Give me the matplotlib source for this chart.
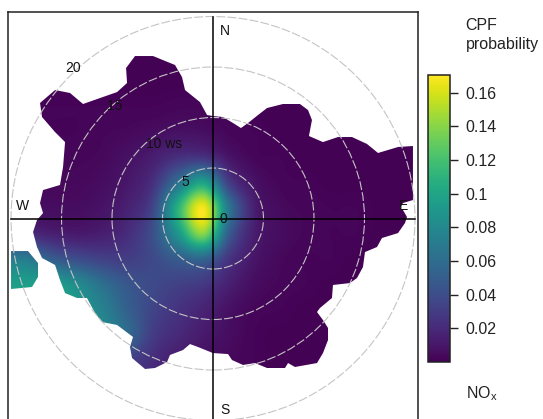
import numpy as np
import matplotlib
matplotlib.use('Agg')
import matplotlib.pyplot as plt
from matplotlib.path import Path
from matplotlib.patches import PathPatch, Circle

plt.rcParams['font.family'] = ['Liberation Sans', 'DejaVu Sans']
plt.rcParams['mathtext.fontset'] = 'custom'
plt.rcParams['mathtext.rm'] = 'Liberation Sans'

# wind components (ws units) of the CPF surface nodes
u_nodes = [-21, -18.5, -16, -13.5, -11, -8.5, -6, -3.5, -1, 1.5, 4, 6.5, 9, 11.5, 14, 16.5, 19, 21.5]
v_nodes = [18.5, 16, 13.5, 11, 8.5, 6, 3.5, 1, -1.5, -4, -6.5, -9, -11.5, -14, -16.5]

# CPF probability x 1000, one row per v node
cpf_rows = [
    [1, 1, 1, 1, 1, 1, 1, 1, 1, 1, 1, 1, 1, 1, 1, 1, 1, 1],
    [1, 1, 1, 1, 1, 1, 1, 1, 1, 1, 1, 1, 1, 1, 1, 1, 1, 1],
    [1, 1, 1, 1, 1, 1, 1, 1, 1, 1, 1, 1, 1, 1, 1, 1, 1, 1],
    [2, 2, 2, 2, 2, 2, 2, 3, 3, 2, 1, 1, 1, 1, 1, 1, 1, 1],
    [2, 2, 2, 2, 3, 4, 6, 8, 7, 3, 2, 1, 1, 1, 1, 1, 1, 1],
    [3, 3, 3, 3, 4, 8, 14, 24, 26, 10, 3, 2, 1, 1, 1, 1, 1, 1],
    [5, 5, 4, 4, 6, 11, 24, 65, 100, 32, 9, 3, 2, 1, 1, 1, 1, 1],
    [6, 6, 6, 6, 9, 16, 36, 110, 168, 68, 15, 5, 3, 2, 2, 1, 1, 1],
    [20, 20, 15, 12, 14, 22, 42, 90, 140, 50, 14, 6, 3, 2, 2, 1, 1, 1],
    [70, 70, 50, 40, 33, 31, 38, 50, 55, 26, 10, 4, 2, 2, 1, 1, 1, 1],
    [95, 95, 95, 82, 62, 46, 38, 33, 28, 15, 6, 3, 2, 1, 1, 1, 1, 1],
    [100, 100, 100, 90, 75, 52, 35, 25, 17, 8, 3, 2, 1, 1, 1, 1, 1, 1],
    [100, 100, 100, 90, 80, 58, 30, 20, 12, 6, 2, 1, 1, 1, 1, 1, 1, 1],
    [80, 80, 80, 70, 60, 35, 22, 12, 7, 4, 2, 1, 1, 1, 1, 1, 1, 1],
    [60, 60, 60, 50, 40, 30, 18, 10, 5, 3, 1, 1, 1, 1, 1, 1, 1, 1],
]

# outline of the surface, clockwise from north
edge_u = [0, 0.99, 1.98, 2.77, 3.47, 4.46, 5.35, 6.93, 8.61, 9.41, 9.80, 9.50, 10.89, 12.38, 13.76,
          15.25, 16.34, 18.32, 19.80, 19.80, 18.81, 18.51, 18.81, 19.21, 19.01, 18.32, 16.73, 16.24,
          15.05, 14.85, 14.26, 13.56, 11.88, 11.78, 10.59, 10.30, 10.89, 11.39, 11.39, 10.89, 10.30,
          8.12, 7.43, 7.13, 5.35, 4.16, 2.97, 1.88, 1.49, 0, -0.50, -1.49, -2.28, -2.97, -4.26, -4.55,
          -5.74, -6.73, -8.02, -8.22, -7.92, -9.50, -10.99, -11.68, -12.48, -13.47, -14.65, -15.15,
          -15.64, -16.93, -17.43, -17.82, -17.43, -16.83, -17.13, -16.83, -15.15, -14.85, -14.65,
          -15.64, -16.93, -17.13, -15.64, -14.16, -12.87, -11.19, -9.50, -8.51, -8.61, -7.72, -5.94,
          -3.76, -3.07, -2.77, -1.29, -0.59]
edge_v = [10.15, 10.05, 9.46, 8.96, 9.46, 10.25, 10.94, 11.34, 11.34, 10.74, 9.75, 8.17, 7.57, 8.07,
          8.07, 7.38, 6.49, 7.08, 7.18, 1.83, 1.53, 1.04, 0.84, 0.15, -0.45, -1.44, -1.93, -2.82,
          -3.32, -4.80, -5.89, -6.39, -6.58, -7.87, -8.86, -9.26, -10.05, -10.84, -12.03, -13.32,
          -14.31, -14.70, -14.31, -14.80, -14.80, -14.31, -14.50, -14.01, -13.42, -13.32, -13.12,
          -12.72, -12.43, -13.02, -13.51, -14.21, -14.80, -14.90, -13.81, -12.72, -11.73, -10.54,
          -10.25, -9.36, -7.87, -7.87, -7.38, -6.09, -4.60, -3.91, -2.82, -1.34, -0.15, 0.54, 1.53,
          2.82, 3.32, 5.10, 7.57, 8.56, 10.05, 11.44, 12.72, 12.43, 11.34, 11.93, 12.52, 13.42, 14.90,
          16.09, 16.09, 15.20, 14.01, 12.72, 11.53, 10.25]

# the small separate patch at the WSW edge
patch_u = [-20, -18.32, -17.33, -17.33, -17.92, -20]
patch_v = [-3.22, -3.22, -4.41, -5.79, -6.78, -6.98]

ws_rings = [5, 10, 15, 20]
ring_labels = ['5', '10 ws', '15', '20']
cbar_ticks = [0.02, 0.04, 0.06, 0.08, 0.1, 0.12, 0.14, 0.16]
cbar_labels = ['0.02', '0.04', '0.06', '0.08', '0.1', '0.12', '0.14', '0.16']

W, H = 543, 419
fig = plt.figure(figsize=(W / 100, H / 100), dpi=100)

# panel runs off the bottom of the figure, as in the original
ax = fig.add_axes([7.5 / W, -11 / H, 410.5 / W, 417.5 / H])

values = np.array(cpf_rows) / 1000.0
step = 2.5
extent = [u_nodes[0] - step / 2, u_nodes[-1] + step / 2, v_nodes[-1] - step / 2, v_nodes[0] + step / 2]
# catrom passes through the node values, plain bicubic flattens the peak
im = ax.imshow(values, extent=extent, origin='upper', cmap='viridis', vmin=0, vmax=0.1704,
               interpolation='catrom', aspect='auto', zorder=1)

outline = Path.make_compound_path(Path(np.column_stack([edge_u + edge_u[:1], edge_v + edge_v[:1]])),
                                  Path(np.column_stack([patch_u + patch_u[:1], patch_v + patch_v[:1]])))
clip = PathPatch(outline, transform=ax.transData, fc='none', ec='none')
ax.add_patch(clip)
im.set_clip_path(clip)

for ws in ws_rings:
    ax.add_patch(Circle((0, 0), ws, fill=False, ec='#c4c4c4', lw=0.8, ls=(0, (8, 2)), zorder=2))

ax.plot([0, 0], [-21, 20], color='black', lw=1.1, zorder=3)
ax.plot([-20, 20], [0, 0], color='black', lw=1.1, zorder=3)

ax.text(1.15, 18.55, 'N', fontsize=10, ha='center', va='center', color='#111111', zorder=4)
ax.text(1.15, -18.95, 'S', fontsize=10, ha='center', va='center', color='#111111', zorder=4)
ax.text(-18.9, 1.2, 'W', fontsize=10, ha='center', va='center', color='#111111', zorder=4)
ax.text(18.9, 1.2, 'E', fontsize=10, ha='center', va='center', color='#111111', zorder=4)
ax.text(1.0, -0.05, '0', fontsize=10, ha='center', va='center', color='#111111', zorder=4)
# ring labels sit along the NW diagonal
ring_pos = [(-2.75, 3.6), (-4.8, 7.35), (-9.75, 11.1), (-13.85, 14.9)]
for (x, y), lab in zip(ring_pos, ring_labels):
    ax.text(x, y, lab, fontsize=10, ha='center', va='center', color='#111111', zorder=4)

ax.set_xlim(-20.35, 20.30)
ax.set_ylim(-20.94, 20.40)
ax.set_xticks([])
ax.set_yticks([])
for sp in ax.spines.values():
    sp.set_linewidth(1.1)
    sp.set_color('#222222')

cax = fig.add_axes([428 / W, (H - 362) / H, 22 / W, 287 / H])
cb = fig.colorbar(im, cax=cax, ticks=cbar_ticks)
cb.ax.set_yticklabels(cbar_labels)
cb.ax.tick_params(length=5.8, width=1.0, labelsize=11.5, pad=5, colors='#222222')
cb.outline.set_linewidth(1.1)
cb.outline.set_edgecolor('#222222')

fig.text(465.5 / W, (H - 25) / H, 'CPF', fontsize=11.5, ha='left', va='center', color='#222222')
fig.text(465.5 / W, (H - 44) / H, 'probability', fontsize=11.5, ha='left', va='center', color='#222222')
fig.text(465.5 / W, (H - 394) / H, r'NO$_{\mathrm{x}}$', fontsize=11.5, ha='left', va='center', color='#222222')

fig.savefig('out.png', dpi=100)
plt.close(fig)
